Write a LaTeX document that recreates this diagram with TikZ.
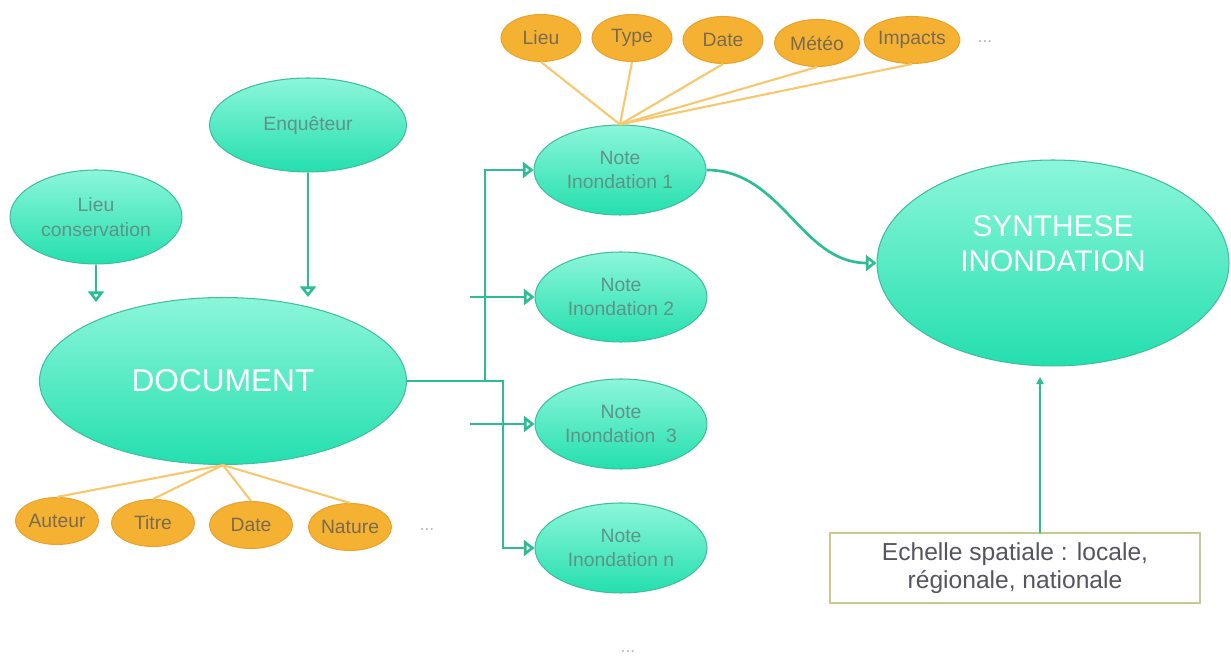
\documentclass[tikz,border=0pt]{standalone}
\usepackage{fontspec}
\setmainfont{Liberation Sans}
\usetikzlibrary{shapes.geometric,arrows.meta}

\definecolor{tealtop}{HTML}{8CF6DA}
\definecolor{tealbot}{HTML}{24DFAE}
\definecolor{tealedge}{HTML}{3FBF9E}
\definecolor{tealline}{HTML}{2BBD94}
\definecolor{notetext}{HTML}{5E9486}
\definecolor{orangefill}{HTML}{F5B232}
\definecolor{orangeedge}{HTML}{EBA22C}
\definecolor{orangeline}{HTML}{F7C86E}
\definecolor{attrtext}{HTML}{7A6A4E}
\definecolor{cadreedge}{HTML}{C9C98F}
\definecolor{cadretext}{HTML}{55555F}

\tikzset{
	bulle/.style={ellipse,draw=tealedge,line width=0.6pt,top color=tealtop,bottom color=tealbot,
		inner sep=0pt,align=center,text=notetext,font=\fontsize{11}{14}\selectfont},
	note/.style={bulle,minimum width=3.44cm,minimum height=1.8cm},
	attr/.style={ellipse,draw=orangeedge,line width=0.6pt,fill=orangefill,inner sep=0pt,
		minimum width=1.66cm,minimum height=0.94cm,text=attrtext,font=\fontsize{11}{13}\selectfont},
	lien/.style={draw=orangeline,line width=1.2pt},
	fleche/.style={draw=tealline,line width=1.5pt,-{Triangle[open,length=6pt,width=9pt]}},
	cadre/.style={draw=cadreedge,line width=0.8pt,fill=white,align=center,inner sep=0pt,
		minimum width=7.4cm,minimum height=1.4cm,text=cadretext,font=\fontsize{14}{16}\selectfont},
	points/.style={text=gray!55,font=\fontsize{10}{12}\selectfont}
}

\begin{document}
\begin{tikzpicture}[x=0.02cm,y=-0.02cm]
	\useasboundingbox (0,0) rectangle (1231,661);
	\fill[white] (0,0) rectangle (1231,661);
	
	\node[bulle,minimum width=3.44cm,minimum height=1.88cm] at (96,217) (lieu) {Lieu\\conservation};
	\node[bulle,minimum width=3.94cm,minimum height=1.88cm] at (308,125) (enq) {Enquêteur};
	\node[bulle,minimum width=7.34cm,minimum height=3.34cm,text=white,font=\fontsize{18}{20}\selectfont] at (223,381) (doc) {DOCUMENT};
	
	\node[note] at (620,170) (n1) {Note\\Inondation 1};
	\node[note] at (621,297) (n2) {Note\\Inondation 2};
	\node[note] at (621,424) (n3) {Note\\Inondation \ 3};
	\node[note] at (621,548) (nn) {Note\\Inondation n};
	
	\node[bulle,minimum width=7.04cm,minimum height=4.12cm,text=white,font=\fontsize{17}{20}\selectfont] at (1053,263) (syn) {SYNTHESE\\INONDATION\\[2pt]\mbox{}};
	\node[cadre] at (1015,568) (echelle) {Echelle spatiale : locale,\\régionale, nationale};
	
	\node[attr] at (57,521) (auteur) {Auteur};
	\node[attr] at (153,523) (titre) {Titre};
	\node[attr] at (251,525) (datedoc) {Date};
	\node[attr] at (350,527) (nature) {Nature};
	\node[points] at (427,530) (suitedoc) {...};
	
	\node[attr,minimum width=1.6cm] at (541,38) (lieunote) {Lieu};
	\node[attr,minimum width=1.6cm] at (632,38) (type) {Type};
	\node[attr,minimum width=1.6cm] at (723,40) (datenote) {Date};
	\node[attr,minimum width=1.7cm] at (817,43) (meteo) {Météo};
	\node[attr,minimum width=1.6cm] at (912,40) (impacts) {Impacts};
	\node[points] at (985,42) (suitenote) {...};
	
	\node[points] at (628,652) (suite) {...};
	
	\foreach \a in {auteur,titre,datedoc,nature}
		\draw[lien] (doc.south) -- (\a.north);
	\foreach \a in {lieunote,type,datenote,meteo,impacts}
		\draw[lien] (n1.north) -- (\a.south);
	
	\coordinate (lieufin) at (96,302);
	\coordinate (enqfin) at (308,297);
	\draw[fleche] (lieu.south) -- (lieufin);
	\draw[fleche] (enq.south) -- (enqfin);
	
	\coordinate (j1) at (485,381);
	\coordinate (j2) at (503,381);
	\coordinate (d2) at (470,297);
	\coordinate (d3) at (470,424);
	\draw[fleche] (doc.east) -- (j1) |- (n1.west);
	\draw[fleche] (j1) -- (j2) |- (nn.west);
	\draw[fleche] (d2) -- (n2.west);
	\draw[fleche] (d3) -- (n3.west);
	
	\draw[fleche] (n1.east) to[out=0,in=180] (syn.west);
	
	\coordinate (e1) at (1040,533);
	\coordinate (e2) at (1040,377);
	\draw[fleche,-{Triangle[length=4pt,width=4pt]}] (e1) -- (e2);
\end{tikzpicture}
\end{document}
